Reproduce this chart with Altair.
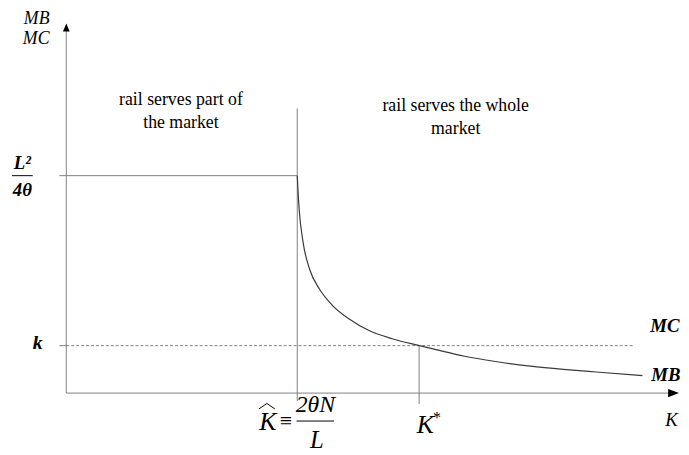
import altair as alt
import pandas as pd

# ---- diagram values (K rightward from origin, MB/MC upward from origin) ----
K_AXIS_END = 620          # end of the K axis (arrow tip)
V_AXIS_END = 374          # end of the MB/MC axis (arrow tip)
K_HAT = 233.7             # K-hat = 2θN/L
K_STAR = 357              # K*
MB_MAX = 220              # L^2 / 4θ
MC_LEVEL = 48             # k
TICK = 7

# MB curve for K >= K-hat
mb_K = [233.7, 234.6, 235.7, 239.7, 246.3, 256.3, 269.7, 286.3, 306.3, 329.7, 356.3,
        373.0, 403.0, 436.0, 469.7, 503.0, 536.0, 583.0]
mb_val = [220.0, 202.0, 185.0, 152.0, 125.0, 105.0, 88.3, 75.0, 63.3, 55.0, 48.3,
          44.3, 37.3, 31.7, 27.3, 24.0, 21.3, 17.7]
MC_END = 573

GRAY = "#7f7f7f"
FONT = "Liberation Serif, Times New Roman, Times, serif"

xs = alt.Scale(domain=[0, K_AXIS_END], nice=False, zero=False)
ys = alt.Scale(domain=[0, V_AXIS_END], nice=False, zero=False)


def X(f="x"):
    return alt.X(f"{f}:Q", scale=xs, axis=None)


def Y(f="y"):
    return alt.Y(f"{f}:Q", scale=ys, axis=None)


# solid gray segments
solid = pd.DataFrame([
    dict(x=0, y=0, x2=0, y2=V_AXIS_END - 4),                 # vertical axis
    dict(x=0, y=0, x2=K_AXIS_END - 6, y2=0),                 # horizontal axis
    dict(x=-TICK, y=MB_MAX, x2=K_HAT, y2=MB_MAX),            # flat MB part
    dict(x=K_HAT, y=-8, x2=K_HAT, y2=288),                   # K-hat divider
    dict(x=K_STAR, y=-11, x2=K_STAR, y2=MC_LEVEL),           # K* drop line
    dict(x=-TICK, y=MC_LEVEL, x2=0, y2=MC_LEVEL),            # k tick
])
dashed = pd.DataFrame([dict(x=0, y=MC_LEVEL, x2=MC_END, y2=MC_LEVEL)])
bars = pd.DataFrame([
    dict(x=-55, y=MB_MAX, x2=-34, y2=MB_MAX),                # L^2/4θ bar
    dict(x=K_HAT - 0.7, y=-28.3, x2=K_HAT + 37.3, y2=-28.3),  # 2θN/L bar
])

rule_enc = dict(x=X(), y=Y(), x2="x2:Q", y2="y2:Q")
solid_l = alt.Chart(solid).mark_rule(color=GRAY, strokeWidth=1).encode(**rule_enc)
dashed_l = alt.Chart(dashed).mark_rule(color=GRAY, strokeWidth=1,
                                       strokeDash=[3, 2]).encode(**rule_enc)
bars_l = alt.Chart(bars).mark_rule(color="#000000", strokeWidth=1).encode(**rule_enc)

curve = pd.DataFrame({"x": mb_K, "y": mb_val})
curve_l = alt.Chart(curve).mark_line(color="#3a3a3a", strokeWidth=1.2,
                                     interpolate="monotone").encode(x=X(), y=Y())

# hat over K
hat = pd.DataFrame({"x": [K_HAT - 38.7, K_HAT - 30.7, K_HAT - 22.7],
                    "y": [-16, -10.5, -16], "o": [0, 1, 2]})
hat_l = alt.Chart(hat).mark_line(color="#000000", strokeWidth=1).encode(
    x=X(), y=Y(), order="o:Q")

# arrowheads
arrow_up = alt.Chart(pd.DataFrame({"x": [0], "y": [V_AXIS_END - 4]})).mark_point(
    shape="M -0.85 1 L 0 -1 L 0.85 1 Z", size=64, filled=True, opacity=1,
    color="#000000").encode(x=X(), y=Y())
arrow_right = alt.Chart(pd.DataFrame({"x": [K_AXIS_END - 5.5], "y": [0]})).mark_point(
    shape="M -1 -0.75 L 1 0 L -1 0.75 Z", size=121, filled=True, opacity=1,
    color="#000000").encode(x=X(), y=Y())

# ---- texts ----
labels = [
    # text, x, y, size, style, weight, align
    ("MB", -17, 373.5, 18, "italic", "normal", "right"),
    ("MC", -17, 353, 18, "italic", "normal", "right"),
    ("L²", -44.5, 227, 19, "italic", "bold", "center"),
    ("4θ", -44.5, 199, 19, "italic", "bold", "center"),
    ("k", -34, 45, 20, "italic", "bold", "left"),
    ("rail serves part of", 116, 291, 18, "normal", "normal", "center"),
    ("the market", 116, 268.5, 18, "normal", "normal", "center"),
    ("rail serves the whole", 394, 285, 18, "normal", "normal", "center"),
    ("market", 394, 262.5, 18, "normal", "normal", "center"),
    ("MC", 591, 62, 19, "italic", "bold", "left"),
    ("MB", 592, 12, 19, "italic", "bold", "left"),
    ("K", 606, -33, 19, "italic", "normal", "left"),
    ("K", 195.3, -37.7, 26, "italic", "normal", "left"),
    ("≡", 216, -35, 22, "normal", "normal", "left"),
    ("2θN", 252, -19.3, 24, "italic", "normal", "center"),
    ("L", 253.5, -56, 25, "italic", "normal", "center"),
    ("K", 354.7, -40, 26, "italic", "normal", "left"),
    ("*", 371, -30, 16, "normal", "normal", "left"),
]
tdf = pd.DataFrame(labels, columns=["text", "x", "y", "size", "style", "weight", "align"])

text_layers = []
for (style, weight, align), g in tdf.groupby(["style", "weight", "align"]):
    text_layers.append(
        alt.Chart(g).mark_text(font=FONT, fontStyle=style, fontWeight=weight,
                               align=align, baseline="alphabetic", color="#000000")
        .encode(x=X(), y=Y(), text="text:N", size=alt.Size("size:Q", scale=None, legend=None))
    )

chart = alt.layer(solid_l, dashed_l, bars_l, curve_l, hat_l, arrow_up, arrow_right,
                  *text_layers).properties(
    width=620, height=374,
    padding={"left": 59, "top": 13, "right": 2, "bottom": 60},
    autosize=alt.AutoSizeParams(type="none"),
    background="#ffffff",
).configure_view(strokeWidth=0)

chart.save("out.html", embed_options={"renderer": "svg", "actions": False})
